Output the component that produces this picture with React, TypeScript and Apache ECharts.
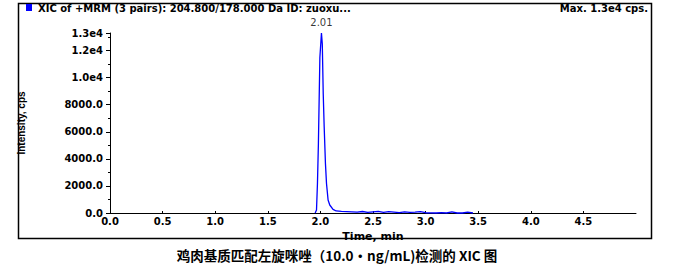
import React, { useEffect, useRef } from "react";
import * as echarts from "echarts";

const times = [1.95, 1.963, 1.972, 1.981, 1.995, 2.01, 2.018, 2.027, 2.036, 2.048, 2.058, 2.073, 2.089, 2.12, 2.15, 2.2, 2.25,
  2.3, 2.35, 2.4, 2.45, 2.5, 2.55, 2.6, 2.65, 2.7, 2.75, 2.8, 2.85, 2.9, 2.95, 3.0, 3.05, 3.1, 3.15, 3.2, 3.25, 3.3, 3.35, 3.4, 3.45];
const intensities = [0, 220, 2180, 5120, 11490, 13300, 12480, 8800, 6350, 3650, 2180, 960, 590, 270, 150, 120, 100,
  80, 60, 110, 40, 90, 120, 50, 100, 70, 30, 90, 40, 60, 100, 20, 10, 0, 30, 0, 80, 0, 0, 60, 0];
const peakTime = 2.01;
const peakValue = 13300;
const peakLabel = "2.01";
const titleText = "XIC of +MRM (3 pairs): 204.800/178.000 Da ID: zuoxu...";
const maxText = "Max. 1.3e4 cps.";
const captionText = "鸡肉基质匹配左旋咪唑（10.0·ng/mL)检测的 XIC 图";
const xName = "Time, min";
const yName = "Intensity, cps";

export default function App() {
  const ref = useRef<HTMLDivElement>(null);
  useEffect(() => {
    const chart = echarts.init(ref.current!, null, { renderer: "svg" });
    const data = times.map((t, i) => [t, intensities[i]]);
    const labelFont = { fontFamily: "DejaVu Sans", fontWeight: "bold" as const, fontSize: 10, color: "#000" };
    chart.setOption({
      animation: false,
      backgroundColor: "#fff",
      grid: { left: 110, right: 44, top: 33, bottom: 56 },
      xAxis: {
        type: "value",
        min: 0,
        max: 5,
        interval: 0.5,
        name: xName,
        nameLocation: "middle",
        nameGap: 18,
        nameTextStyle: { ...labelFont, fontSize: 11 },
        axisLine: { lineStyle: { color: "#000", width: 1 } },
        axisTick: { inside: true, length: 2, lineStyle: { color: "#000" } },
        axisLabel: { ...labelFont, margin: 3, showMaxLabel: false, formatter: (v: number) => v.toFixed(1) },
        splitLine: { show: false },
      },
      yAxis: {
        type: "value",
        min: 0,
        max: 13300,
        interval: 2000,
        name: yName,
        nameLocation: "middle",
        nameRotate: 90,
        nameGap: 84,
        nameTextStyle: { fontFamily: "Liberation Sans", fontWeight: "bold", fontSize: 10, color: "#000" },
        axisLine: { show: true, lineStyle: { color: "#000", width: 1 } },
        axisTick: { show: true, length: 4, lineStyle: { color: "#000" } },
        minorTick: { show: true, splitNumber: 2, length: 2, lineStyle: { color: "#000" } },
        axisLabel: {
          ...labelFont,
          margin: 7,
          formatter: (v: number) => (v >= 10000 ? (v / 10000).toFixed(1) + "e4" : v.toFixed(1)),
        },
        splitLine: { show: false },
      },
      series: [
        {
          type: "line",
          data,
          symbol: "none",
          lineStyle: { color: "#0000ff", width: 1.3 },
          itemStyle: { color: "#0000ff" },
          clip: false,
        },
        {
          type: "scatter",
          data: [[peakTime, peakValue]],
          symbolSize: 0,
          clip: false,
          silent: true,
          label: {
            show: true,
            formatter: peakLabel,
            position: "top",
            distance: 6,
            fontFamily: "DejaVu Sans",
            fontSize: 10,
            color: "#000",
          },
        },
      ],
      graphic: [
        {
          type: "rect",
          shape: { x: 18.5, y: 3.5, width: 633, height: 235 },
          style: { fill: "none", stroke: "#000", lineWidth: 1.5 },
        },
        { type: "rect", shape: { x: 26, y: 4, width: 6, height: 7 }, style: { fill: "#0000ff" } },
        {
          type: "text",
          x: 38,
          y: 8,
          style: { text: titleText, ...labelFont, fill: "#000", verticalAlign: "middle", align: "left" },
        },
        {
          type: "text",
          x: 648,
          y: 8,
          style: { text: maxText, ...labelFont, fill: "#000", verticalAlign: "middle", align: "right" },
        },
        {
          type: "text",
          x: 337,
          y: 255,
          style: {
            text: captionText,
            fontFamily: "Noto Sans CJK SC",
            fontWeight: "bold",
            fontSize: 13.5,
            fill: "#000",
            align: "center",
            verticalAlign: "middle",
          },
        },
      ],
    });
    return () => chart.dispose();
  }, []);
  return <div ref={ref} style={{ position: "fixed", left: 0, top: 0, width: 680, height: 269 }} />;
}
